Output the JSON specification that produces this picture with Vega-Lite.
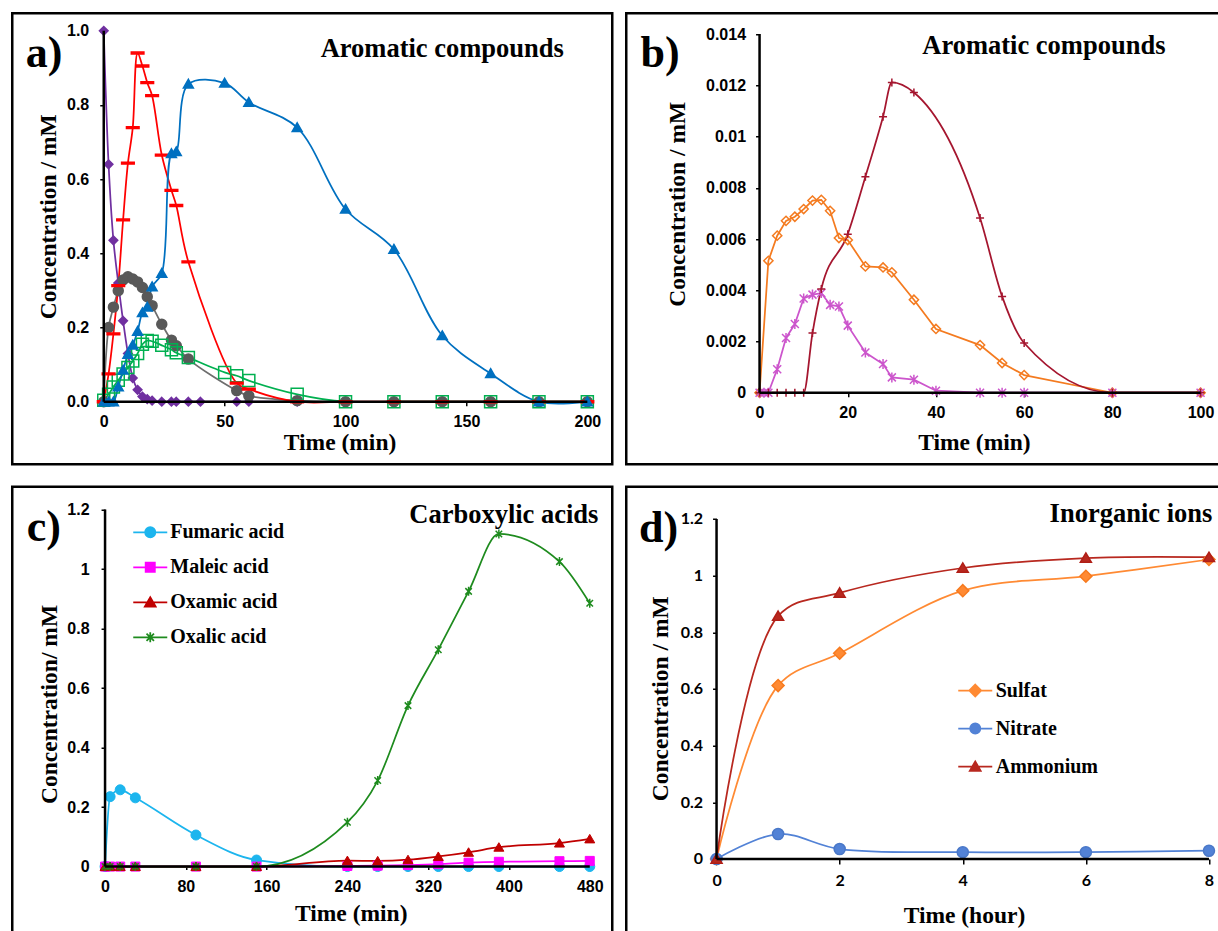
{
  "$schema": "https://vega.github.io/schema/vega-lite/v6.json",
  "padding": {"left": 10.25, "top": 11.25, "right": 0, "bottom": 0},
  "background": "white",
  "columns": 2,
  "spacing": {"row": 18.5, "column": 10},
  "resolve": {"scale": {"color": "independent", "shape": "independent", "fill": "independent", "stroke": "independent"}, "legend": {"color": "independent", "shape": "independent", "fill": "independent", "stroke": "independent"}},
  "datasets": {
    "a": [
      {"s":"P","t":0,"c":1.0},{"s":"P","t":2,"c":0.64},{"s":"P","t":4,"c":0.435},{"s":"P","t":6,"c":0.32},{"s":"P","t":8,"c":0.218},{"s":"P","t":10,"c":0.13},{"s":"P","t":12,"c":0.064},{"s":"P","t":14,"c":0.032},{"s":"P","t":16,"c":0.014},{"s":"P","t":18,"c":0.007},{"s":"P","t":20,"c":0.003},{"s":"P","t":24,"c":0},{"s":"P","t":28,"c":0},{"s":"P","t":30,"c":0},{"s":"P","t":35,"c":0},{"s":"P","t":40,"c":0},{"s":"P","t":55,"c":0},{"s":"P","t":60,"c":0},{"s":"P","t":80,"c":0},
      {"s":"G","t":0,"c":0},{"s":"G","t":2,"c":0.2},{"s":"G","t":4,"c":0.255},{"s":"G","t":6,"c":0.299},{"s":"G","t":8,"c":0.328},{"s":"G","t":10,"c":0.337},{"s":"G","t":12,"c":0.331},{"s":"G","t":14,"c":0.323},{"s":"G","t":16,"c":0.308},{"s":"G","t":18,"c":0.283},{"s":"G","t":20,"c":0.259},{"s":"G","t":24,"c":0.209},{"s":"G","t":28,"c":0.166},{"s":"G","t":30,"c":0.151},{"s":"G","t":35,"c":0.115},{"s":"G","t":55,"c":0.03},{"s":"G","t":60,"c":0.016},{"s":"G","t":80,"c":0.003},{"s":"G","t":100,"c":0},{"s":"G","t":120,"c":0},{"s":"G","t":140,"c":0},{"s":"G","t":160,"c":0},{"s":"G","t":180,"c":0},{"s":"G","t":200,"c":0},
      {"s":"Gn","t":0,"c":0.004},{"s":"Gn","t":2,"c":0.02},{"s":"Gn","t":4,"c":0.04},{"s":"Gn","t":6,"c":0.058},{"s":"Gn","t":8,"c":0.075},{"s":"Gn","t":10,"c":0.092},{"s":"Gn","t":12,"c":0.11},{"s":"Gn","t":14,"c":0.13},{"s":"Gn","t":16,"c":0.155},{"s":"Gn","t":18,"c":0.165},{"s":"Gn","t":20,"c":0.163},{"s":"Gn","t":24,"c":0.152},{"s":"Gn","t":28,"c":0.14},{"s":"Gn","t":30,"c":0.132},{"s":"Gn","t":35,"c":0.119},{"s":"Gn","t":50,"c":0.079},{"s":"Gn","t":55,"c":0.07},{"s":"Gn","t":60,"c":0.057},{"s":"Gn","t":80,"c":0.02},{"s":"Gn","t":100,"c":0},{"s":"Gn","t":120,"c":0},{"s":"Gn","t":140,"c":0},{"s":"Gn","t":160,"c":0},{"s":"Gn","t":180,"c":0},{"s":"Gn","t":200,"c":0},
      {"s":"R","t":0,"c":0},{"s":"R","t":2,"c":0.075},{"s":"R","t":4,"c":0.183},{"s":"R","t":6,"c":0.313},{"s":"R","t":8,"c":0.49},{"s":"R","t":10,"c":0.643},{"s":"R","t":12,"c":0.739},{"s":"R","t":14,"c":0.94},{"s":"R","t":16,"c":0.905},{"s":"R","t":18,"c":0.86},{"s":"R","t":20,"c":0.825},{"s":"R","t":24,"c":0.665},{"s":"R","t":28,"c":0.57},{"s":"R","t":30,"c":0.529},{"s":"R","t":35,"c":0.377},{"s":"R","t":55,"c":0.05},{"s":"R","t":60,"c":0.034},{"s":"R","t":80,"c":0},{"s":"R","t":100,"c":0},{"s":"R","t":120,"c":0},{"s":"R","t":140,"c":0},{"s":"R","t":160,"c":0},{"s":"R","t":180,"c":0},{"s":"R","t":200,"c":0},
      {"s":"Bl","t":0,"c":0},{"s":"Bl","t":2,"c":0},{"s":"Bl","t":4,"c":0},{"s":"Bl","t":6,"c":0.04},{"s":"Bl","t":8,"c":0.085},{"s":"Bl","t":10,"c":0.128},{"s":"Bl","t":12,"c":0.153},{"s":"Bl","t":14,"c":0.19},{"s":"Bl","t":16,"c":0.24},{"s":"Bl","t":18,"c":0.255},{"s":"Bl","t":20,"c":0.31},{"s":"Bl","t":24,"c":0.346},{"s":"Bl","t":28,"c":0.669},{"s":"Bl","t":30,"c":0.674},{"s":"Bl","t":35,"c":0.856},{"s":"Bl","t":50,"c":0.859},{"s":"Bl","t":60,"c":0.807},{"s":"Bl","t":80,"c":0.739},{"s":"Bl","t":100,"c":0.519},{"s":"Bl","t":120,"c":0.411},{"s":"Bl","t":140,"c":0.178},{"s":"Bl","t":160,"c":0.076},{"s":"Bl","t":180,"c":0},{"s":"Bl","t":200,"c":0}
    ],
    "b": [
      {"s":"O","t":0,"c":0},{"s":"O","t":2,"c":0.00515},{"s":"O","t":4,"c":0.00613},{"s":"O","t":6,"c":0.00671},{"s":"O","t":8,"c":0.00687},{"s":"O","t":10,"c":0.00717},{"s":"O","t":12,"c":0.0075},{"s":"O","t":14,"c":0.00753},{"s":"O","t":16,"c":0.0071},{"s":"O","t":18,"c":0.00604},{"s":"O","t":20,"c":0.00596},{"s":"O","t":24,"c":0.00493},{"s":"O","t":28,"c":0.00489},{"s":"O","t":30,"c":0.0047},{"s":"O","t":35,"c":0.00363},{"s":"O","t":40,"c":0.00249},{"s":"O","t":50,"c":0.00186},{"s":"O","t":55,"c":0.00116},{"s":"O","t":60,"c":0.00069},{"s":"O","t":80,"c":0},{"s":"O","t":100,"c":0},
      {"s":"M","t":0,"c":0},{"s":"M","t":1,"c":0},{"s":"M","t":2,"c":0},{"s":"M","t":4,"c":0.00092},{"s":"M","t":6,"c":0.00214},{"s":"M","t":8,"c":0.00268},{"s":"M","t":10,"c":0.00368},{"s":"M","t":12,"c":0.00383},{"s":"M","t":14,"c":0.00389},{"s":"M","t":16,"c":0.00343},{"s":"M","t":18,"c":0.00337},{"s":"M","t":20,"c":0.00262},{"s":"M","t":24,"c":0.00157},{"s":"M","t":28,"c":0.00112},{"s":"M","t":30,"c":0.0006},{"s":"M","t":35,"c":0.00051},{"s":"M","t":40,"c":0.00008},{"s":"M","t":50,"c":0},{"s":"M","t":55,"c":0},{"s":"M","t":60,"c":0},{"s":"M","t":80,"c":0},{"s":"M","t":100,"c":0},
      {"s":"D","t":0,"c":0},{"s":"D","t":2,"c":0},{"s":"D","t":4,"c":0},{"s":"D","t":6,"c":0},{"s":"D","t":8,"c":0},{"s":"D","t":10,"c":0},{"s":"D","t":12,"c":0.00233},{"s":"D","t":14,"c":0.00405},{"s":"D","t":20,"c":0.00619},{"s":"D","t":24,"c":0.00843},{"s":"D","t":28,"c":0.01077},{"s":"D","t":30,"c":0.01211},{"s":"D","t":35,"c":0.01172},{"s":"D","t":50,"c":0.00682},{"s":"D","t":55,"c":0.00376},{"s":"D","t":60,"c":0.00194},{"s":"D","t":80,"c":0},{"s":"D","t":100,"c":0}
    ],
    "c": [
      {"s":"Fumaric acid","t":0,"c":0},{"s":"Fumaric acid","t":5,"c":0.235},{"s":"Fumaric acid","t":15,"c":0.258},{"s":"Fumaric acid","t":30,"c":0.231},{"s":"Fumaric acid","t":90,"c":0.106},{"s":"Fumaric acid","t":150,"c":0.022},{"s":"Fumaric acid","t":240,"c":0},{"s":"Fumaric acid","t":270,"c":0},{"s":"Fumaric acid","t":300,"c":0},{"s":"Fumaric acid","t":330,"c":0},{"s":"Fumaric acid","t":360,"c":0},{"s":"Fumaric acid","t":390,"c":0},{"s":"Fumaric acid","t":450,"c":0},{"s":"Fumaric acid","t":480,"c":0},
      {"s":"Maleic acid","t":0,"c":0},{"s":"Maleic acid","t":5,"c":0},{"s":"Maleic acid","t":15,"c":0},{"s":"Maleic acid","t":30,"c":0},{"s":"Maleic acid","t":90,"c":0},{"s":"Maleic acid","t":150,"c":0},{"s":"Maleic acid","t":240,"c":0.002},{"s":"Maleic acid","t":270,"c":0.003},{"s":"Maleic acid","t":300,"c":0.005},{"s":"Maleic acid","t":330,"c":0.008},{"s":"Maleic acid","t":360,"c":0.013},{"s":"Maleic acid","t":390,"c":0.016},{"s":"Maleic acid","t":450,"c":0.018},{"s":"Maleic acid","t":480,"c":0.019},
      {"s":"Oxamic acid","t":0,"c":0},{"s":"Oxamic acid","t":5,"c":0},{"s":"Oxamic acid","t":15,"c":0},{"s":"Oxamic acid","t":30,"c":0},{"s":"Oxamic acid","t":90,"c":0},{"s":"Oxamic acid","t":150,"c":0},{"s":"Oxamic acid","t":240,"c":0.02},{"s":"Oxamic acid","t":270,"c":0.019},{"s":"Oxamic acid","t":300,"c":0.023},{"s":"Oxamic acid","t":330,"c":0.034},{"s":"Oxamic acid","t":360,"c":0.048},{"s":"Oxamic acid","t":390,"c":0.065},{"s":"Oxamic acid","t":450,"c":0.079},{"s":"Oxamic acid","t":480,"c":0.093},
      {"s":"Oxalic acid","t":0,"c":0},{"s":"Oxalic acid","t":5,"c":0},{"s":"Oxalic acid","t":15,"c":0},{"s":"Oxalic acid","t":30,"c":0},{"s":"Oxalic acid","t":90,"c":0},{"s":"Oxalic acid","t":150,"c":0},{"s":"Oxalic acid","t":240,"c":0.149},{"s":"Oxalic acid","t":270,"c":0.289},{"s":"Oxalic acid","t":300,"c":0.541},{"s":"Oxalic acid","t":330,"c":0.729},{"s":"Oxalic acid","t":360,"c":0.925},{"s":"Oxalic acid","t":390,"c":1.118},{"s":"Oxalic acid","t":450,"c":1.025},{"s":"Oxalic acid","t":480,"c":0.885}
    ],
    "d": [
      {"s":"Sulfat","t":0,"c":0},{"s":"Sulfat","t":1,"c":0.612},{"s":"Sulfat","t":2,"c":0.726},{"s":"Sulfat","t":4,"c":0.947},{"s":"Sulfat","t":6,"c":0.998},{"s":"Sulfat","t":8,"c":1.057},
      {"s":"Nitrate","t":0,"c":0},{"s":"Nitrate","t":1,"c":0.088},{"s":"Nitrate","t":2,"c":0.035},{"s":"Nitrate","t":4,"c":0.024},{"s":"Nitrate","t":6,"c":0.024},{"s":"Nitrate","t":8,"c":0.029},
      {"s":"Ammonium","t":0,"c":0},{"s":"Ammonium","t":1,"c":0.857},{"s":"Ammonium","t":2,"c":0.939},{"s":"Ammonium","t":4,"c":1.027},{"s":"Ammonium","t":6,"c":1.062},{"s":"Ammonium","t":8,"c":1.065}
    ]
  },
  "concat": [
    {
      "width": 600, "height": 451,
      "layer": [
        {"data": {"name": "a"},
         "mark": {"type": "line", "interpolate": "catmull-rom", "strokeWidth": 1.75},
         "encoding": {
           "x": {"field": "t", "type": "quantitative", "scale": {"domain": [-37.84, 210.3], "nice": false, "zero": false},
                 "axis": {"values": [0, 50, 100, 150, 200], "format": "d", "offset": -62.5, "tickSize": 4, "labelPadding": 8, "title": "Time (min)", "titleX": 327.3, "titleY": 47.3}},
           "y": {"field": "c", "type": "quantitative", "scale": {"domain": [-0.1685, 1.0472], "nice": false, "zero": false},
                 "axis": {"values": [0, 0.2, 0.4, 0.6, 0.8, 1], "format": ".1f", "offset": -91.5, "tickSize": 4, "labelPadding": 11, "title": "Concentration / mM", "titleX": -48, "titleY": 203}},
           "color": {"field": "s", "type": "nominal", "scale": {"domain": ["P", "G", "Gn", "R", "Bl"], "range": ["#7030A0", "#6E6E6E", "#00B050", "#FF0000", "#0070C0"]}, "legend": null}}},
        {"data": {"name": "a"},
         "mark": {"type": "point", "opacity": 1, "strokeWidth": 1.5, "size": 144},
         "encoding": {
           "x": {"field": "t", "type": "quantitative"},
           "y": {"field": "c", "type": "quantitative"},
           "shape": {"field": "s", "type": "nominal", "scale": {"domain": ["P", "G", "Gn", "R", "Bl"], "range": ["M0,-0.72L0.72,0L0,0.72L-0.72,0Z", "M0.83,0A0.83,0.83,0,1,1,-0.83,0A0.83,0.83,0,1,1,0.83,0Z", "M-1,-1H1V1H-1Z", "M-1.05,-0.15H1.05V0.15H-1.05Z", "M0,-0.8L0.83,0.65H-0.83Z"]}, "legend": null},
           "fill": {"field": "s", "type": "nominal", "scale": {"domain": ["P", "G", "Gn", "R", "Bl"], "range": ["#7030A0", "#595959", "transparent", "#FF0000", "#0070C0"]}, "legend": null},
           "stroke": {"field": "s", "type": "nominal", "scale": {"domain": ["P", "G", "Gn", "R", "Bl"], "range": ["#7030A0", "#595959", "#00B050", "#FF0000", "#0070C0"]}, "legend": null}
         }},
        {"data": {"values": [{"axisline": "a-x"}]}, "mark": {"type": "rule", "color": "black", "strokeWidth": 2.5}, "encoding": {"x": {"datum": 0}, "x2": {"datum": 200}, "y": {"datum": 0}}},
        {"data": {"values": [{"axisline": "a-y"}]}, "mark": {"type": "rule", "color": "black", "strokeWidth": 2.5}, "encoding": {"x": {"datum": 0}, "y": {"datum": 0}, "y2": {"datum": 1}}},
        {"data": {"values": [{"label": "a)"}]}, "mark": {"type": "text", "fontSize": 44, "align": "left", "baseline": "alphabetic", "fill": "black"}, "encoding": {"text": {"field": "label"}, "x": {"datum": -32.3}, "y": {"datum": 0.901}}},
        {"data": {"values": [{"label": "Aromatic compounds"}]}, "mark": {"type": "text", "fontSize": 26.5, "align": "left", "baseline": "alphabetic", "fill": "black"}, "encoding": {"text": {"field": "label"}, "x": {"datum": 89.7}, "y": {"datum": 0.928}}}
      ]
    },
    {
      "width": 593, "height": 451,
      "layer": [
        {"data": {"name": "b"}, "transform": [{"filter": "datum.s !== 'D'"}],
         "mark": {"type": "line", "strokeWidth": 1.75},
         "encoding": {
           "x": {"field": "t", "type": "quantitative", "scale": {"domain": [-30.23, 104.24], "nice": false, "zero": false},
                 "axis": {"values": [0, 20, 40, 60, 80, 100], "format": "d", "offset": -71.5, "tickSize": 4, "labelPadding": 8, "title": "Time (min)", "titleX": 347.7, "titleY": 56.3}},
           "y": {"field": "c", "type": "quantitative", "scale": {"domain": [-0.0027907, 0.014812], "nice": false, "zero": false},
                 "axis": {"values": [0, 0.002, 0.004, 0.006, 0.008, 0.01, 0.012, 0.014], "format": "~g", "offset": -133.3, "tickSize": 4, "labelPadding": 10, "title": "Concentration / mM", "titleX": -75.3, "titleY": 190.5}},
           "color": {"field": "s", "type": "nominal", "scale": {"domain": ["O", "M", "D"], "range": ["#F47B20", "#CC55CC", "#A5162F"]}, "legend": null}}},
        {"data": {"name": "b"}, "transform": [{"filter": "datum.s === 'D'"}],
         "mark": {"type": "line", "interpolate": "monotone", "strokeWidth": 1.75},
         "encoding": {
           "x": {"field": "t", "type": "quantitative"},
           "y": {"field": "c", "type": "quantitative"},
           "color": {"field": "s", "type": "nominal", "scale": {"domain": ["O", "M", "D"], "range": ["#F47B20", "#CC55CC", "#A5162F"]}, "legend": null}}},
        {"data": {"name": "b"},
         "mark": {"type": "point", "opacity": 1, "strokeWidth": 1.5, "size": 100, "filled": false},
         "encoding": {
           "x": {"field": "t", "type": "quantitative"},
           "y": {"field": "c", "type": "quantitative"},
           "color": {"field": "s", "type": "nominal", "scale": {"domain": ["O", "M", "D"], "range": ["#F47B20", "#CC55CC", "#A5162F"]}, "legend": null},
           "shape": {"field": "s", "type": "nominal", "scale": {"domain": ["O", "M", "D"], "range": ["M0,-0.92L0.92,0L0,0.92L-0.92,0Z", "M-0.8,-0.8L0.8,0.8M-0.8,0.8L0.8,-0.8M0,-1V1", "M-0.8,0H0.8M0,-0.8V0.8"]}, "legend": null}
         }},
        {"data": {"values": [{"axisline": "b-x"}]}, "mark": {"type": "rule", "color": "black", "strokeWidth": 2.5}, "encoding": {"x": {"datum": 0}, "x2": {"datum": 100}, "y": {"datum": 0}}},
        {"data": {"values": [{"axisline": "b-y"}]}, "mark": {"type": "rule", "color": "black", "strokeWidth": 2.5}, "encoding": {"x": {"datum": 0}, "y": {"datum": 0}, "y2": {"datum": 0.014}}},
        {"data": {"values": [{"label": "b)"}]}, "mark": {"type": "text", "fontSize": 44, "align": "left", "baseline": "alphabetic", "fill": "black"}, "encoding": {"text": {"field": "label"}, "x": {"datum": -27.0}, "y": {"datum": 0.012697}}},
        {"data": {"values": [{"label": "Aromatic compounds "}]}, "mark": {"type": "text", "fontSize": 26.5, "align": "left", "baseline": "alphabetic", "fill": "black"}, "encoding": {"text": {"field": "label"}, "x": {"datum": 36.9}, "y": {"datum": 0.01322}}}
      ]
    },
    {
      "width": 600, "height": 451,
      "layer": [
        {"data": {"name": "c"},
         "mark": {"type": "point", "filled": true, "opacity": 0, "strokeWidth": 1.75},
         "encoding": {
           "x": {"field": "t", "type": "quantitative", "scale": {"domain": [-91.9, 502.28], "nice": false, "zero": false},
                 "axis": {"values": [0, 80, 160, 240, 320, 400, 480], "format": "d", "offset": -71.2, "tickSize": 3, "labelPadding": 9, "title": "Time (min)", "titleX": 338.5, "titleY": 54}},
           "y": {"field": "c", "type": "quantitative", "scale": {"domain": [-0.2393, 1.2766], "nice": false, "zero": false},
                 "axis": {"values": [0, 0.2, 0.4, 0.6, 0.8, 1, 1.2], "format": "~g", "offset": -92.8, "tickSize": 4, "labelPadding": 12, "title": "Concentration/ mM", "titleX": -48.3, "titleY": 217.2}},
           "color": {"field": "s", "type": "nominal", "scale": {"domain": ["Fumaric acid", "Maleic acid", "Oxamic acid", "Oxalic acid"], "range": ["#1CB5EE", "#FF00FF", "#C00000", "#1E8B1E"]},
             "legend": {"orient": "none", "legendX": 120, "legendY": 28.25, "title": null, "padding": 0, "symbolSize": 1156, "symbolStrokeWidth": 1.75, "symbolOpacity": 1, "clipHeight": 34.5, "rowPadding": 0, "labelOffset": 2, "labelFont": "Liberation Serif", "labelFontWeight": "bold", "labelFontSize": 20, "labelColor": "black", "labelLimit": 300}},
           "shape": {"field": "s", "type": "nominal", "scale": {"domain": ["Fumaric acid", "Maleic acid", "Oxamic acid", "Oxalic acid"], "range": ["M-1,0H1M0.3,0A0.3,0.3,0,1,1,-0.3,0A0.3,0.3,0,1,1,0.3,0Z", "M-1,0H1M-0.27,-0.27H0.27V0.27H-0.27Z", "M-1,0H1M0,-0.3L0.32,0.25H-0.32Z", "M-1,0H1M-0.22,-0.22L0.22,0.22M-0.22,0.22L0.22,-0.22M0,-0.29V0.29"]},
             "legend": {"orient": "none", "legendX": 120, "legendY": 28.25, "title": null, "padding": 0, "symbolSize": 1156, "symbolStrokeWidth": 1.75, "symbolOpacity": 1, "clipHeight": 34.5, "rowPadding": 0, "labelOffset": 2, "labelFont": "Liberation Serif", "labelFontWeight": "bold", "labelFontSize": 20, "labelColor": "black", "labelLimit": 300}},
           "stroke": {"field": "s", "type": "nominal", "scale": {"domain": ["Fumaric acid", "Maleic acid", "Oxamic acid", "Oxalic acid"], "range": ["#1CB5EE", "#FF00FF", "#C00000", "#1E8B1E"]},
             "legend": {"orient": "none", "legendX": 120, "legendY": 28.25, "title": null, "padding": 0, "symbolSize": 1156, "symbolStrokeWidth": 1.75, "symbolOpacity": 1, "clipHeight": 34.5, "rowPadding": 0, "labelOffset": 2, "labelFont": "Liberation Serif", "labelFontWeight": "bold", "labelFontSize": 20, "labelColor": "black", "labelLimit": 300}}
         }},
        {"data": {"name": "c"},
         "mark": {"type": "line", "interpolate": "monotone", "strokeWidth": 1.75},
         "encoding": {
           "x": {"field": "t", "type": "quantitative"},
           "y": {"field": "c", "type": "quantitative"},
           "color": {"field": "s", "type": "nominal", "scale": {"domain": ["Fumaric acid", "Maleic acid", "Oxamic acid", "Oxalic acid"], "range": ["#1CB5EE", "#FF00FF", "#C00000", "#1E8B1E"]}}}},
        {"data": {"name": "c"}, "transform": [{"filter": "datum.s === 'Fumaric acid'"}],
         "mark": {"type": "point", "shape": "circle", "size": 100, "filled": true, "fill": "#1CB5EE", "stroke": "#1CB5EE", "strokeWidth": 1, "opacity": 1},
         "encoding": {"x": {"field": "t", "type": "quantitative"}, "y": {"field": "c", "type": "quantitative"}}},
        {"data": {"name": "c"}, "transform": [{"filter": "datum.s === 'Maleic acid'"}],
         "mark": {"type": "point", "shape": "M-0.9,-0.9H0.9V0.9H-0.9Z", "size": 100, "filled": true, "fill": "#FF00FF", "stroke": "#FF00FF", "strokeWidth": 1, "opacity": 1},
         "encoding": {"x": {"field": "t", "type": "quantitative"}, "y": {"field": "c", "type": "quantitative"}}},
        {"data": {"name": "c"}, "transform": [{"filter": "datum.s === 'Oxamic acid'"}],
         "mark": {"type": "point", "shape": "M0,-0.9L1,0.8H-1Z", "size": 100, "filled": true, "fill": "#C00000", "stroke": "#C00000", "strokeWidth": 1, "opacity": 1},
         "encoding": {"x": {"field": "t", "type": "quantitative"}, "y": {"field": "c", "type": "quantitative"}}},
        {"data": {"name": "c"}, "transform": [{"filter": "datum.s === 'Oxalic acid'"}],
         "mark": {"type": "point", "shape": "M-0.65,-0.65L0.65,0.65M-0.65,0.65L0.65,-0.65M0,-0.9V0.9", "size": 100, "filled": false, "stroke": "#1E8B1E", "strokeWidth": 1.5, "opacity": 1},
         "encoding": {"x": {"field": "t", "type": "quantitative"}, "y": {"field": "c", "type": "quantitative"}}},
        {"data": {"values": [{"axisline": "c-x"}]}, "mark": {"type": "rule", "color": "black", "strokeWidth": 2.5}, "encoding": {"x": {"datum": 0}, "x2": {"datum": 480}, "y": {"datum": 0}}},
        {"data": {"values": [{"axisline": "c-y"}]}, "mark": {"type": "rule", "color": "black", "strokeWidth": 2.5}, "encoding": {"x": {"datum": 0}, "y": {"datum": 0}, "y2": {"datum": 1.2}}},
        {"data": {"values": [{"label": "c)"}]}, "mark": {"type": "text", "fontSize": 44, "align": "left", "baseline": "alphabetic", "fill": "black"}, "encoding": {"text": {"field": "label"}, "x": {"datum": -77.5}, "y": {"datum": 1.0958}}},
        {"data": {"values": [{"label": "Carboxylic acids"}]}, "mark": {"type": "text", "fontSize": 26.5, "align": "right", "baseline": "alphabetic", "fill": "black"}, "encoding": {"text": {"field": "label"}, "x": {"datum": 488.6}, "y": {"datum": 1.155}}}
      ]
    },
    {
      "width": 593, "height": 451,
      "layer": [
        {"data": {"name": "d"},
         "mark": {"type": "point", "filled": true, "opacity": 0, "strokeWidth": 1.75},
         "encoding": {
           "x": {"field": "t", "type": "quantitative", "scale": {"domain": [-1.467, 8.167], "nice": false, "zero": false},
                 "axis": {"values": [0, 2, 4, 6, 8], "format": "d", "offset": -78.8, "tickSize": 5, "labelPadding": 9, "labelFont": "Lato", "title": "Time (hour)", "titleX": 337.7, "titleY": 63.3}},
           "y": {"field": "c", "type": "quantitative", "scale": {"domain": [-0.2781, 1.3138], "nice": false, "zero": false},
                 "axis": {"values": [0, 0.2, 0.4, 0.6, 0.8, 1, 1.2], "format": "~g", "offset": -90.3, "tickSize": 4, "labelPadding": 10, "labelFont": "Lato", "title": "Concentration / mM", "titleX": -49.3, "titleY": 211.5}},
           "color": {"field": "s", "type": "nominal", "scale": {"domain": ["Sulfat", "Nitrate", "Ammonium"], "range": ["#FF8A33", "#5282D6", "#B8281F"]},
             "legend": {"orient": "none", "legendX": 331, "legendY": 185, "title": null, "padding": 0, "symbolSize": 1156, "symbolStrokeWidth": 1.75, "symbolOpacity": 1, "clipHeight": 37.5, "rowPadding": 0, "labelOffset": 2.5, "labelFont": "Liberation Serif", "labelFontWeight": "bold", "labelFontSize": 20, "labelColor": "black", "labelLimit": 300, "labelExpr": "datum.value == 'Sulfat' ? '\u2002\u2002Sulfat' : datum.label"}},
           "shape": {"field": "s", "type": "nominal", "scale": {"domain": ["Sulfat", "Nitrate", "Ammonium"], "range": ["M-1,0H1M0,-0.35L0.35,0L0,0.35L-0.35,0Z", "M-1,0H1M0.3,0A0.3,0.3,0,1,1,-0.3,0A0.3,0.3,0,1,1,0.3,0Z", "M-1,0H1M0,-0.3L0.32,0.25H-0.32Z"]},
             "legend": {"orient": "none", "legendX": 331, "legendY": 185, "title": null, "padding": 0, "symbolSize": 1156, "symbolStrokeWidth": 1.75, "symbolOpacity": 1, "clipHeight": 37.5, "rowPadding": 0, "labelOffset": 2.5, "labelFont": "Liberation Serif", "labelFontWeight": "bold", "labelFontSize": 20, "labelColor": "black", "labelLimit": 300, "labelExpr": "datum.value == 'Sulfat' ? '\u2002\u2002Sulfat' : datum.label"}},
           "stroke": {"field": "s", "type": "nominal", "scale": {"domain": ["Sulfat", "Nitrate", "Ammonium"], "range": ["#FF8A33", "#5282D6", "#B8281F"]},
             "legend": {"orient": "none", "legendX": 331, "legendY": 185, "title": null, "padding": 0, "symbolSize": 1156, "symbolStrokeWidth": 1.75, "symbolOpacity": 1, "clipHeight": 37.5, "rowPadding": 0, "labelOffset": 2.5, "labelFont": "Liberation Serif", "labelFontWeight": "bold", "labelFontSize": 20, "labelColor": "black", "labelLimit": 300, "labelExpr": "datum.value == 'Sulfat' ? '\u2002\u2002Sulfat' : datum.label"}}
         }},
        {"data": {"name": "d"},
         "mark": {"type": "line", "interpolate": "catmull-rom", "strokeWidth": 1.75},
         "encoding": {
           "x": {"field": "t", "type": "quantitative"},
           "y": {"field": "c", "type": "quantitative"},
           "color": {"field": "s", "type": "nominal", "scale": {"domain": ["Sulfat", "Nitrate", "Ammonium"], "range": ["#FF8A33", "#5282D6", "#B8281F"]}}}},
        {"data": {"name": "d"}, "transform": [{"filter": "datum.s === 'Sulfat'"}],
         "mark": {"type": "point", "shape": "diamond", "size": 144, "filled": true, "fill": "#FF8A33", "stroke": "#F77A1E", "strokeWidth": 1.5, "opacity": 1},
         "encoding": {"x": {"field": "t", "type": "quantitative"}, "y": {"field": "c", "type": "quantitative"}}},
        {"data": {"name": "d"}, "transform": [{"filter": "datum.s === 'Nitrate'"}],
         "mark": {"type": "point", "shape": "M0.92,0A0.92,0.92,0,1,1,-0.92,0A0.92,0.92,0,1,1,0.92,0Z", "size": 144, "filled": true, "fill": "#5282D6", "stroke": "#4A78C8", "strokeWidth": 1.5, "opacity": 1},
         "encoding": {"x": {"field": "t", "type": "quantitative"}, "y": {"field": "c", "type": "quantitative"}}},
        {"data": {"name": "d"}, "transform": [{"filter": "datum.s === 'Ammonium'"}],
         "mark": {"type": "point", "shape": "M0,-0.85L0.92,0.7H-0.92Z", "size": 144, "filled": true, "fill": "#B8281F", "stroke": "#B01E16", "strokeWidth": 1.5, "opacity": 1},
         "encoding": {"x": {"field": "t", "type": "quantitative"}, "y": {"field": "c", "type": "quantitative"}}},
        {"data": {"values": [{"axisline": "d-x"}]}, "mark": {"type": "rule", "color": "black", "strokeWidth": 2.5}, "encoding": {"x": {"datum": 0}, "x2": {"datum": 8}, "y": {"datum": 0}}},
        {"data": {"values": [{"axisline": "d-y"}]}, "mark": {"type": "rule", "color": "black", "strokeWidth": 2.5}, "encoding": {"x": {"datum": 0}, "y": {"datum": 0}, "y2": {"datum": 1.2}}},
        {"data": {"values": [{"label": "d)"}]}, "mark": {"type": "text", "fontSize": 44, "align": "left", "baseline": "alphabetic", "fill": "black"}, "encoding": {"text": {"field": "label"}, "x": {"datum": -1.261}, "y": {"datum": 1.118}}},
        {"data": {"values": [{"label": "Inorganic ions"}]}, "mark": {"type": "text", "fontSize": 26.5, "align": "right", "baseline": "alphabetic", "fill": "black"}, "encoding": {"text": {"field": "label"}, "x": {"datum": 8.054}, "y": {"datum": 1.191}}}
      ]
    }
  ],
  "config": {
    "view": {"stroke": "black", "strokeWidth": 2.5},
    "axis": {"domain": false, "grid": false, "labelFont": "Liberation Sans", "labelFontWeight": "bold", "labelFontSize": 16, "labelColor": "black", "tickColor": "black", "tickWidth": 1.5,
             "titleFont": "Liberation Serif", "titleFontWeight": "bold", "titleFontSize": 23.5, "titleColor": "black", "titleBaseline": "alphabetic", "titleAlign": "center", "labelFlush": false, "labelOverlap": false},
    "text": {"font": "Liberation Serif", "fontWeight": "bold", "color": "black"}
  }
}
